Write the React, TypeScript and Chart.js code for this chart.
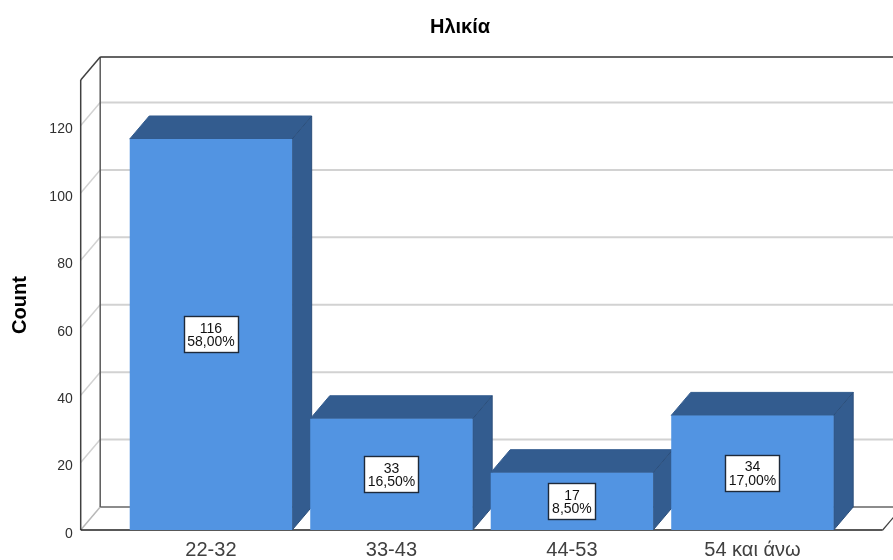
import { useEffect, useRef } from "react";
import { Chart, registerables } from "chart.js";

Chart.register(...registerables);

const chartTitle = "Ηλικία";
const categories = ["22-32", "33-43", "44-53", "54 και άνω"];
const counts = [116, 33, 17, 34];
const percentLabels = ["58,00%", "16,50%", "8,50%", "17,00%"];
const valueTicks = [0, 20, 40, 60, 80, 100, 120];
const valueCeiling = 133.5;

// Oblique projection of the box: how far the back wall sits from the front plane.
const DEPTH_X = 19.5;
const DEPTH_Y = -23;
// Horizontal room between the category band and the front plane of the floor.
const FLOOR_MARGIN = 40;

const FRONT_FACE = "#5294E2";
const SIDE_FACE = "#335C8F";
const SIDE_EDGE = "#2B4E7A";
const GRID = "#D2D2D2";

function segment(
  ctx: CanvasRenderingContext2D,
  x1: number,
  y1: number,
  x2: number,
  y2: number,
  color: string,
  width: number
) {
  ctx.strokeStyle = color;
  ctx.lineWidth = width;
  ctx.beginPath();
  ctx.moveTo(x1, y1);
  ctx.lineTo(x2, y2);
  ctx.stroke();
}

function polygon(ctx: CanvasRenderingContext2D, pts: number[][], fill: string, edge: string) {
  ctx.fillStyle = fill;
  ctx.strokeStyle = edge;
  ctx.lineWidth = 1;
  ctx.beginPath();
  pts.forEach(([x, y], i) => (i ? ctx.lineTo(x, y) : ctx.moveTo(x, y)));
  ctx.closePath();
  ctx.fill();
  ctx.stroke();
}

// Back wall, floor and receding grid lines behind the bars.
const roomPlugin = {
  id: "room",
  beforeDatasetsDraw(chart: any) {
    const { ctx, chartArea, scales } = chart;
    const y = scales.y;
    const left = chartArea.left - FLOOR_MARGIN;
    const right = chartArea.right + FLOOR_MARGIN;
    const bottom = chartArea.bottom;
    const top = chartArea.top;
    const backLeft = left + DEPTH_X;
    const farRight = chart.width + 20;
    ctx.save();
    valueTicks.slice(1).forEach((v) => {
      const py = y.getPixelForValue(v);
      segment(ctx, left, py, backLeft, py + DEPTH_Y, GRID, 1.5);
      segment(ctx, backLeft, py + DEPTH_Y, farRight, py + DEPTH_Y, GRID, 2);
    });
    segment(ctx, left, bottom, backLeft, bottom + DEPTH_Y, "#B8B8B8", 1.5);
    segment(ctx, backLeft, bottom + DEPTH_Y, farRight, bottom + DEPTH_Y, "#8C8C8C", 2);
    segment(ctx, backLeft, top + DEPTH_Y, backLeft, bottom + DEPTH_Y, "#5A5A5A", 1.5);
    segment(ctx, left, top, backLeft, top + DEPTH_Y, "#404040", 1.5);
    segment(ctx, backLeft, top + DEPTH_Y, farRight, top + DEPTH_Y, "#303030", 1.5);
    segment(ctx, left, top, left, bottom, "#404040", 1.5);
    segment(ctx, left, bottom, right, bottom, "#202020", 1.5);
    segment(ctx, right, bottom, right + DEPTH_X, bottom + DEPTH_Y, "#404040", 1.2);
    ctx.restore();
  },
};

// Top and side faces of each bar; later bars overlap the sides of earlier ones.
const barDepthPlugin = {
  id: "barDepth",
  beforeDatasetDraw(chart: any) {
    const { ctx } = chart;
    ctx.save();
    chart.getDatasetMeta(0).data.forEach((bar: any) => {
      const { x, y, base, width } = bar.getProps(["x", "y", "base", "width"], true);
      const l = x - width / 2;
      const r = x + width / 2;
      polygon(
        ctx,
        [[l, y], [l + DEPTH_X, y + DEPTH_Y], [r + DEPTH_X, y + DEPTH_Y], [r, y]],
        SIDE_FACE,
        SIDE_FACE
      );
      polygon(
        ctx,
        [[r, y], [r + DEPTH_X, y + DEPTH_Y], [r + DEPTH_X, base + DEPTH_Y], [r, base]],
        SIDE_FACE,
        SIDE_EDGE
      );
    });
    ctx.restore();
  },
};

// Boxed count and share in the middle of each bar, plus the centred heading.
const annotationPlugin = {
  id: "annotations",
  afterDatasetsDraw(chart: any) {
    const { ctx } = chart;
    ctx.save();
    ctx.textAlign = "center";
    ctx.textBaseline = "middle";
    ctx.font = '14px "Liberation Sans"';
    chart.getDatasetMeta(0).data.forEach((bar: any, i: number) => {
      const { x, y, base } = bar.getProps(["x", "y", "base"], true);
      const cy = (y + base) / 2;
      const boxW = Math.round(ctx.measureText(percentLabels[i]).width) + 7;
      const boxH = 36;
      const bx = Math.round(x - boxW / 2) + 0.5;
      const by = Math.round(cy - boxH / 2) + 0.5;
      ctx.fillStyle = "#FFFFFF";
      ctx.fillRect(bx, by, boxW, boxH);
      ctx.strokeStyle = "#1E2A3A";
      ctx.lineWidth = 1.4;
      ctx.strokeRect(bx, by, boxW, boxH);
      ctx.fillStyle = "#111111";
      ctx.fillText(String(counts[i]), x, cy - 5.5);
      ctx.fillText(percentLabels[i], x, cy + 8);
    });
    ctx.font = 'bold 20px "Liberation Sans"';
    ctx.fillStyle = "#000000";
    ctx.fillText(chartTitle, 460, 27);
    ctx.restore();
  },
};

export default function App() {
  const canvasRef = useRef<HTMLCanvasElement>(null);

  useEffect(() => {
    const chart = new Chart(canvasRef.current as HTMLCanvasElement, {
      type: "bar",
      data: {
        labels: categories,
        datasets: [
          {
            data: counts,
            backgroundColor: FRONT_FACE,
            borderWidth: 0,
            barPercentage: 0.9,
            categoryPercentage: 1,
          },
        ],
      },
      options: {
        animation: false,
        responsive: false,
        layout: { padding: { top: 80, right: 50.3, bottom: 0, left: 0 } },
        plugins: {
          legend: { display: false },
          tooltip: { enabled: false },
        },
        scales: {
          x: {
            grid: { display: false, drawTicks: false },
            border: { display: false },
            ticks: {
              color: "#404040",
              padding: 8,
              font: { family: "Liberation Sans", size: 20 },
              maxRotation: 0,
            },
            afterFit: (scale: any) => {
              scale.height = 30;
            },
          },
          y: {
            min: 0,
            max: valueCeiling,
            grid: { display: false, drawTicks: false },
            border: { display: false },
            title: {
              display: true,
              text: "Count",
              color: "#000000",
              font: { family: "Liberation Sans", size: 20, weight: "bold" },
              padding: { top: 8, bottom: 0 },
            },
            afterBuildTicks: (scale: any) => {
              scale.ticks = valueTicks.map((value) => ({ value }));
            },
            ticks: {
              color: "#303030",
              padding: 48,
              labelOffset: 4,
              font: { family: "Liberation Sans", size: 14 },
            },
            // The wide label gap must not count as vertical padding of the plot.
            afterFit: (scale: any) => {
              scale.width = 120.7;
              scale.paddingTop = 0;
              scale.paddingBottom = 0;
            },
          },
        },
      },
      plugins: [roomPlugin, barDepthPlugin, annotationPlugin],
    } as any);
    return () => chart.destroy();
  }, []);

  return (
    <div style={{ position: "fixed", left: 0, top: 0, width: 893, height: 560, background: "#FFFFFF" }}>
      <canvas ref={canvasRef} width={893} height={560} style={{ display: "block" }} />
    </div>
  );
}
